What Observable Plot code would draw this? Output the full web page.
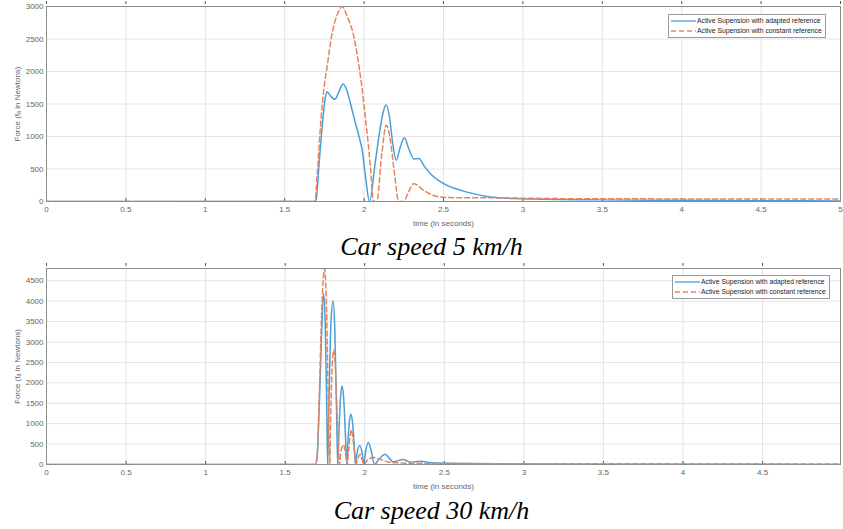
<!DOCTYPE html>
<html>
<head>
<meta charset="utf-8">
<script src="https://cdn.jsdelivr.net/npm/d3@7"></script>
<script src="https://cdn.jsdelivr.net/npm/@observablehq/plot@0.6"></script>
<style>
  html, body { margin: 0; padding: 0; background: #fff; }
  #fig { position: relative; width: 843px; height: 529px; overflow: hidden; font-family: "Liberation Sans", Arial, sans-serif; }
  .cap { font-family: "Liberation Serif", "Times New Roman", serif; font-style: italic; font-size: 26px; color: #000; text-align: center; padding-left: 20px; box-sizing: border-box; width: 843px; }
  .legend { position: absolute; background: #fff; border: 1px solid #9a9a9a; font-size: 6.8px; color: #222; padding: 1px 3px 1px 2px; line-height: 10px; }
  .legend .row { display: flex; align-items: center; white-space: nowrap; }
  .legend svg { margin-right: 1px; }
</style>
</head>
<body>
<div id="fig"></div>
<script>
// ---------- data ----------
const seriesNames = ["Active Supension with adapted reference", "Active Supension with constant reference"];
const seriesColors = ["#4a9fd8", "#e8845c"];

// Car speed 5 km/h
const topAdaptedT = [0, 1.69, 1.70, 1.715, 1.736, 1.757, 1.767, 1.79, 1.816, 1.84, 1.868, 1.89, 1.92, 1.946, 1.968, 1.988, 2.009, 2.034, 2.072, 2.103, 2.125, 2.139, 2.16, 2.18, 2.202, 2.228, 2.254, 2.28, 2.313, 2.345, 2.38, 2.418, 2.47, 2.523, 2.649, 2.775, 2.901, 3.07, 3.5, 4, 4.5, 5];
const topAdaptedF = [0, 0, 60, 530, 1150, 1613, 1690, 1620, 1572, 1680, 1809, 1720, 1450, 1200, 1000, 789, 376, 0, 634, 1150, 1420, 1484, 1300, 900, 634, 840, 979, 820, 655, 660, 540, 428, 320, 247, 144, 77, 51, 38, 25, 18, 12, 8];
const topConstantT = [0, 1.69, 1.705, 1.725, 1.746, 1.767, 1.799, 1.83, 1.862, 1.893, 1.935, 1.977, 2.019, 2.040, 2.059, 2.08, 2.11, 2.14, 2.165, 2.19, 2.219, 2.25, 2.28, 2.313, 2.376, 2.46, 2.544, 2.86, 3.36, 4, 5];
const topConstantF = [0, 0, 428, 1150, 1716, 2077, 2593, 2870, 3000, 2850, 2541, 1922, 1047, 531, 0, 0, 700, 1175, 950, 450, 0, 0, 150, 273, 170, 77, 60, 55, 42, 40, 38];

// Car speed 30 km/h
const botAdaptedT = [0, 1.69, 1.70, 1.715, 1.73, 1.742, 1.752, 1.762, 1.767, 1.775, 1.788, 1.801, 1.812, 1.823, 1.830, 1.838, 1.848, 1.858, 1.868, 1.879, 1.887, 1.895, 1.905, 1.914, 1.924, 1.935, 1.942, 1.95, 1.969, 1.985, 1.994, 2.005, 2.022, 2.04, 2.061, 2.09, 2.128, 2.155, 2.177, 2.2, 2.24, 2.265, 2.29, 2.32, 2.351, 2.4, 2.52, 2.7, 3, 3.5, 4, 4.99];
const botAdaptedF = [0, 0, 150, 1500, 3300, 4190, 3400, 1200, 0, 1500, 3500, 4003, 3300, 1300, 0, 800, 1650, 1924, 1600, 700, 0, 600, 1100, 1230, 1000, 400, 0, 250, 457, 250, 0, 300, 540, 350, 0, 130, 250, 150, 65, 85, 122, 90, 57, 70, 81, 50, 30, 20, 12, 8, 5, 3];
const botConstantT = [0, 1.69, 1.70, 1.715, 1.73, 1.748, 1.76, 1.771, 1.780, 1.788, 1.803, 1.812, 1.826, 1.841, 1.85, 1.866, 1.88, 1.89, 1.90, 1.916, 1.93, 1.945, 1.955, 1.971, 1.985, 1.995, 2.02, 2.06, 2.1, 2.15, 2.2, 2.3, 2.5, 3, 4, 4.99];
const botConstantF = [0, 0, 200, 1800, 3800, 4800, 3800, 1500, 0, 1500, 2800, 2600, 1300, 0, 300, 480, 250, 0, 400, 850, 500, 0, 120, 250, 100, 0, 120, 170, 120, 60, 40, 30, 25, 20, 15, 12];

const xTicksTop = [0, 0.5, 1, 1.5, 2, 2.5, 3, 3.5, 4, 4.5, 5];
const xTicksBot = [0, 0.5, 1, 1.5, 2, 2.5, 3, 3.5, 4, 4.5];
const yTicksTop = [0, 500, 1000, 1500, 2000, 2500, 3000];
const yTicksBot = [0, 500, 1000, 1500, 2000, 2500, 3000, 3500, 4000, 4500];
const captions = ["Car speed 5 km/h", "Car speed 30 km/h"];
const xLabel = "time (in seconds)";
const yLabel = "Force (f\u2090 in Newtons)";

// ---------- build ----------
const zip = (T, F) => T.map((t, i) => ({t, f: F[i]}));
const fmt = d => String(d);

function makeChart({height, marginTop, marginBottom, xDomain, yDomain, xTicks, yTicks, adapted, constant}) {
  const tickStyle = {stroke: "#555", tickFormat: () => "", label: null, tickSize: 3};
  return Plot.plot({
    width: 843,
    height,
    marginTop,
    marginBottom,
    marginLeft: 46,
    marginRight: 3,
    style: {fontFamily: "'Liberation Sans', Arial, sans-serif", fontSize: "8px", color: "#555", background: "#fff", overflow: "visible"},
    x: {domain: xDomain},
    y: {domain: yDomain},
    marks: [
      Plot.gridX(xTicks, {stroke: "#e4e4e4", strokeOpacity: 1}),
      Plot.gridY(yTicks, {stroke: "#e4e4e4", strokeOpacity: 1}),
      Plot.axisX(xTicks, {anchor: "bottom", tickSize: 0, tickPadding: 5, tickFormat: fmt, label: xLabel, labelAnchor: "center", labelOffset: 24, labelArrow: "none", fill: "#666"}),
      Plot.axisY(yTicks, {anchor: "left", tickSize: 0, tickPadding: 3, tickFormat: fmt, label: yLabel, labelAnchor: "center", labelOffset: 32, labelArrow: "none", fill: "#666"}),
      Plot.axisX(xTicks, {anchor: "bottom", ...tickStyle, dy: -3}),
      Plot.axisX(xTicks, {anchor: "top", ...tickStyle, dy: -3}),
      Plot.line(adapted, {x: "t", y: "f", stroke: seriesColors[0], strokeWidth: 1.5, curve: "monotone-x", clip: true}),
      Plot.line(constant, {x: "t", y: "f", stroke: seriesColors[1], strokeWidth: 1.5, strokeDasharray: "5,3", curve: "monotone-x", clip: true}),
      Plot.frame({stroke: "#8c8c8c", strokeWidth: 1})
    ]
  });
}

const fig = document.getElementById("fig");

const top1 = makeChart({
  height: 230, marginTop: 6, marginBottom: 29,
  xDomain: [0, 5], yDomain: [0, 3000], xTicks: xTicksTop, yTicks: yTicksTop,
  adapted: zip(topAdaptedT, topAdaptedF), constant: zip(topConstantT, topConstantF)
});
top1.style.display = "block";
fig.appendChild(top1);

const cap1 = document.createElement("div");
cap1.className = "cap";
cap1.style.height = "34px";
cap1.style.lineHeight = "34px";
cap1.textContent = captions[0];
fig.appendChild(cap1);

const bot1 = makeChart({
  height: 228, marginTop: 4, marginBottom: 28,
  xDomain: [0, 4.99], yDomain: [0, 4800], xTicks: xTicksBot, yTicks: yTicksBot,
  adapted: zip(botAdaptedT, botAdaptedF), constant: zip(botConstantT, botConstantF)
});
bot1.style.display = "block";
fig.appendChild(bot1);

const cap2 = document.createElement("div");
cap2.className = "cap";
cap2.style.height = "37px";
cap2.style.lineHeight = "37px";
cap2.textContent = captions[1];
fig.appendChild(cap2);

function addLegend(left, top) {
  const lg = document.createElement("div");
  lg.className = "legend";
  lg.style.left = left + "px";
  lg.style.top = top + "px";
  seriesNames.forEach((name, i) => {
    const row = document.createElement("div");
    row.className = "row";
    const dash = i === 1 ? ' stroke-dasharray="5,3"' : '';
    row.innerHTML = `<svg width="25" height="6"><line x1="0" y1="3" x2="25" y2="3" stroke="${seriesColors[i]}" stroke-width="1.3"${dash}/></svg><span>${name}</span>`;
    lg.appendChild(row);
  });
  fig.appendChild(lg);
}
addLegend(668, 14);
addLegend(672, 275);
</script>
</body>
</html>
